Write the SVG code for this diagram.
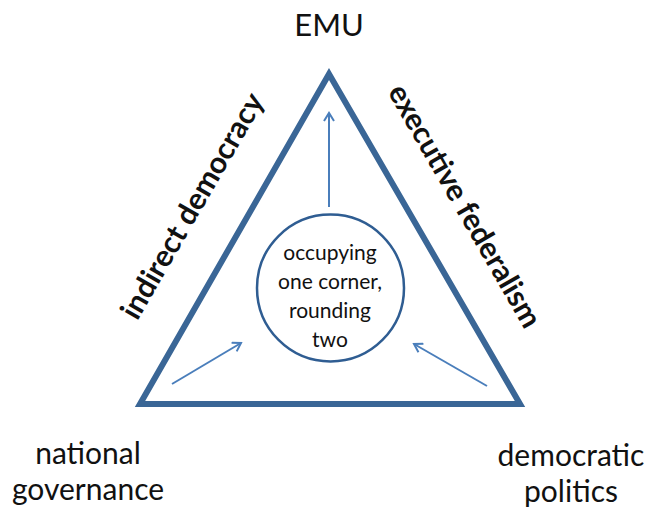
<svg xmlns="http://www.w3.org/2000/svg" width="650" height="514" viewBox="0 0 650 514">
<defs>
<style>
text{font-family:Lato,"Open Sans","Liberation Sans",sans-serif;fill:#111;}
.corner{font-size:30px;text-anchor:middle;}
.emu{font-size:31px;text-anchor:middle;}
.side{font-size:30px;font-weight:bold;text-anchor:middle;}
.inner{font-size:21px;text-anchor:middle;}
.tri{fill:none;stroke:#3a6696;stroke-width:6;stroke-linejoin:miter;}
.circ{fill:#fff;stroke:#2f5d92;stroke-width:2.5;}
.arr{fill:none;stroke:#4a7ebb;stroke-width:2;marker-end:url(#head);}
</style>
<marker id="head" viewBox="0 0 12 12" refX="10" refY="6" markerWidth="12" markerHeight="12" markerUnits="userSpaceOnUse" orient="auto">
<path d="M2,1 L10,6 L2,11" fill="none" stroke="#4a7ebb" stroke-width="2"/>
</marker>
</defs>
<g id="triangle">
<polygon class="tri" points="329,74 140,404 520,404"/>
</g>
<g id="connectors">
<line class="arr" x1="329" y1="207" x2="329" y2="113"/>
<line class="arr" x1="172" y1="384" x2="241" y2="343"/>
<line class="arr" x1="487" y1="386" x2="414" y2="344"/>
</g>
<g id="center">
<circle class="circ" cx="330.5" cy="288" r="73.5"/>
<text class="inner" x="330" y="260"><tspan x="330" y="260">occupying</tspan><tspan x="330" y="289">one corner,</tspan><tspan x="330" y="318">rounding</tspan><tspan x="330" y="347">two</tspan></text>
</g>
<g id="emu">
<text class="emu" x="329" y="36">EMU</text>
</g>
<g id="national-governance">
<text class="corner" x="88" y="464"><tspan x="88" y="464">national</tspan><tspan x="88" y="500">governance</tspan></text>
</g>
<g id="democratic-politics">
<text class="corner" x="571" y="466"><tspan x="571" y="466">democratic</tspan><tspan x="571" y="502">politics</tspan></text>
</g>
<g id="indirect-democracy">
<text class="side" x="201" y="211" transform="rotate(-60 201 211)">indirect democracy</text>
</g>
<g id="executive-federalism">
<text class="side" x="456" y="211" transform="rotate(60 456 211)">executive federalism</text>
</g>
</svg>
